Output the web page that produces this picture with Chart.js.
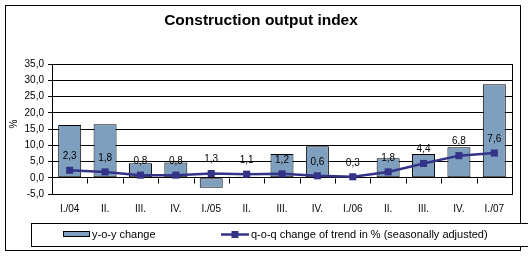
<!DOCTYPE html>
<html>
<head>
<meta charset="utf-8">
<script src="https://cdn.jsdelivr.net/npm/chart.js@4"></script>
<style>
  body { margin: 0; background: #fff; }
  canvas { display: block; }
</style>
</head>
<body>
<canvas id="chart" width="528" height="259"></canvas>
<script>
const quarters = ["I./04", "II.", "III.", "IV.", "I./05", "II.", "III.", "IV.", "I./06", "II.", "III.", "IV.", "I./07"];
const yoyChange = [16.2, 16.5, 4.5, 4.7, -3.1, 0.3, 7.3, 9.7, 0.1, 6.0, 7.3, 9.4, 28.8];
const qoqTrend = [2.3, 1.8, 0.8, 0.8, 1.3, 1.1, 1.2, 0.6, 0.3, 1.8, 4.4, 6.8, 7.6];
const yTicks = [-5, 0, 5, 10, 15, 20, 25, 30, 35];

const barColor = "#7F9FBF";
const lineColor = "#333388";
const font = "'Liberation Sans', Arial, sans-serif";

function comma(v) {
  return v.toFixed(1).replace(".", ",");
}

// frame, title, axis title, tick marks on the zero line, line labels, legend
const decorations = {
  id: "decorations",
  beforeDraw(chart) {
    const c = chart.ctx;
    c.save();
    c.fillStyle = "#fff";
    c.fillRect(0, 0, chart.width, chart.height);
    c.restore();
  },
  afterDraw(chart) {
    const c = chart.ctx;
    const area = chart.chartArea;
    const x = chart.scales.x;
    const y = chart.scales.y;
    c.save();
    c.strokeStyle = "#000";
    c.lineWidth = 1;

    // plot area border
    c.strokeRect(Math.round(area.left) + 0.5, Math.round(area.top) + 0.5,
      Math.round(area.right - area.left), Math.round(area.bottom - area.top));

    // category ticks crossing at zero
    const y0 = Math.round(y.getPixelForValue(0)) + 0.5;
    const step = x.getPixelForValue(1) - x.getPixelForValue(0);
    c.beginPath();
    for (let i = 1; i < quarters.length; i++) {
      const px = Math.round(x.getPixelForValue(i) - step / 2) + 0.5;
      c.moveTo(px, y0);
      c.lineTo(px, y0 + 5);
    }
    c.stroke();

    // line value labels
    c.fillStyle = "#000";
    c.font = "10px " + font;
    c.textAlign = "center";
    c.textBaseline = "middle";
    const meta = chart.getDatasetMeta(1);
    meta.data.forEach((pt, i) => {
      c.fillText(comma(qoqTrend[i]), pt.x, pt.y - 14);
    });

    // outer frame
    c.strokeRect(5.5, 5.5, 515, 245);

    // title
    c.font = "bold 15.5px " + font;
    c.fillText("Construction output index", 261, 21);

    // y axis title
    c.save();
    c.translate(14, 124);
    c.rotate(-Math.PI / 2);
    c.font = "10px " + font;
    c.fillText("%", 0, 0);
    c.restore();

    // legend
    c.fillStyle = "#fff";
    c.fillRect(31.5, 223.5, 500, 23);
    c.strokeRect(31.5, 223.5, 500, 23);
    const ds = chart.data.datasets;
    c.fillStyle = barColor;
    c.fillRect(63.5, 231.5, 26, 5);
    c.strokeRect(63.5, 231.5, 26, 5);
    c.strokeStyle = lineColor;
    c.lineWidth = 2.5;
    c.beginPath();
    c.moveTo(221, 234.5);
    c.lineTo(249, 234.5);
    c.stroke();
    c.fillStyle = lineColor;
    c.fillRect(231.5, 231, 7, 7);
    c.fillStyle = "#000";
    c.font = "11px " + font;
    c.textAlign = "left";
    c.fillText(ds[0].label, 92, 235);
    c.fillText(ds[1].label, 251, 235);
    c.restore();
  }
};

new Chart(document.getElementById("chart"), {
  data: {
    labels: quarters,
    datasets: [
      {
        type: "bar",
        label: "y-o-y change",
        data: yoyChange,
        backgroundColor: barColor,
        borderColor: "#000",
        borderWidth: 1,
        borderSkipped: false,
        categoryPercentage: 1,
        barPercentage: 0.65,
        order: 2
      },
      {
        type: "line",
        label: "q-o-q change of trend in % (seasonally adjusted)",
        data: qoqTrend,
        borderColor: lineColor,
        borderWidth: 2.5,
        pointStyle: "rect",
        pointRadius: 5,
        pointBackgroundColor: lineColor,
        pointBorderColor: lineColor,
        pointBorderWidth: 0,
        tension: 0,
        fill: false,
        order: 1
      }
    ]
  },
  options: {
    responsive: false,
    devicePixelRatio: 1,
    animation: false,
    layout: { padding: { top: 64, right: 16, left: 0, bottom: 0 } },
    scales: {
      x: {
        offset: true,
        grid: { display: false, drawTicks: false },
        border: { display: false },
        ticks: {
          color: "#000",
          font: { family: font, size: 10 },
          padding: 9,
          maxRotation: 0,
          autoSkip: false
        },
        afterFit(s) { s.height = 65; }
      },
      y: {
        min: -5,
        max: 35,
        afterBuildTicks(s) { s.ticks = yTicks.map(v => ({ value: v })); },
        grid: { color: "#000", lineWidth: 1, tickLength: 4, tickColor: "#000" },
        border: { color: "#000" },
        ticks: {
          color: "#000",
          font: { family: font, size: 10 },
          padding: 4,
          callback: v => comma(v)
        },
        afterFit(s) { s.width = 52; }
      }
    },
    plugins: {
      legend: { display: false },
      title: { display: false },
      tooltip: { enabled: false }
    }
  },
  plugins: [decorations]
});
</script>
</body>
</html>
